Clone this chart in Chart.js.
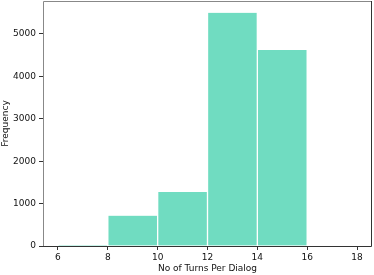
<!DOCTYPE html>
<html>
<head>
<meta charset="utf-8">
<script src="https://cdn.jsdelivr.net/npm/chart.js@4"></script>
<style>
  html, body { margin: 0; padding: 0; background: #fff; }
  #wrap { width: 374px; height: 275px; }
</style>
</head>
<body>
<div id="wrap"><canvas id="hist"></canvas></div>
<script>
// histogram bins (left edges, width 2) and counts
const binStarts = [6, 8, 10, 12, 14, 16];
const binWidth = 2;
const counts = [24, 715, 1275, 5500, 4625, 0];
const xTicks = [6, 8, 10, 12, 14, 16, 18];
const yTicks = [0, 1000, 2000, 3000, 4000, 5000];

const barColor = '#70dcc1';
const font = { family: 'DejaVu Sans', size: 9 };

// matplotlib-like frame round the plot area
const frame = {
    id: 'frame',
    afterDraw(chart) {
        const a = chart.chartArea;
        const c = chart.ctx;
        c.save();
        c.lineWidth = 1;
        c.strokeStyle = '#888';
        c.beginPath();
        c.moveTo(a.left + 0.5, a.bottom);
        c.lineTo(a.left + 0.5, a.top + 0.5);
        c.lineTo(a.right, a.top + 0.5);
        c.stroke();
        c.strokeStyle = '#333';
        c.beginPath();
        c.moveTo(a.right - 0.5, a.top);
        c.lineTo(a.right - 0.5, a.bottom + 0.5);
        c.lineTo(a.left, a.bottom + 0.5);
        c.stroke();
        c.restore();
    }
};

const ctx = document.getElementById('hist').getContext('2d');
new Chart(ctx, {
    type: 'bar',
    data: {
        datasets: [{
            data: binStarts.map((s, i) => ({ x: s + binWidth / 2, y: counts[i] })),
            backgroundColor: barColor,
            borderColor: '#ffffff',
            borderWidth: { left: 1, right: 1, top: 0, bottom: 0 },
            borderSkipped: false,
            barPercentage: 1,
            categoryPercentage: 1
        }]
    },
    options: {
        responsive: true,
        maintainAspectRatio: false,
        animation: false,
        layout: { padding: { top: 1, right: 2, left: 0, bottom: 0 } },
        plugins: { legend: { display: false }, tooltip: { enabled: false } },
        scales: {
            x: {
                type: 'linear',
                min: 5.4,
                max: 18.6,
                offset: false,
                afterBuildTicks: s => { s.ticks = xTicks.map(v => ({ value: v })); },
                afterFit: s => { s.height = 29; s.paddingLeft = 0; s.paddingRight = 0; },
                grid: { offset: false, drawOnChartArea: false, drawTicks: true, tickLength: 4, color: '#333' },
                border: { display: false },
                ticks: { color: '#111', font: font, padding: 2, maxRotation: 0, callback: v => String(v) },
                title: { display: true, text: 'No of Turns Per Dialog', color: '#111', font: font, padding: { top: 0, bottom: 1 } }
            },
            y: {
                min: 0,
                max: 5778,
                afterBuildTicks: s => { s.ticks = yTicks.map(v => ({ value: v })); },
                afterFit: s => { s.width = 43; s.paddingTop = 0; s.paddingBottom = 0; },
                grid: { drawOnChartArea: false, drawTicks: true, tickLength: 4, color: '#333' },
                border: { display: false },
                ticks: { color: '#111', font: font, padding: 3, callback: v => String(v) },
                title: { display: true, text: 'Frequency', color: '#111', font: font, padding: { top: 0, bottom: 0 } }
            }
        }
    },
    plugins: [frame]
});
</script>
</body>
</html>
